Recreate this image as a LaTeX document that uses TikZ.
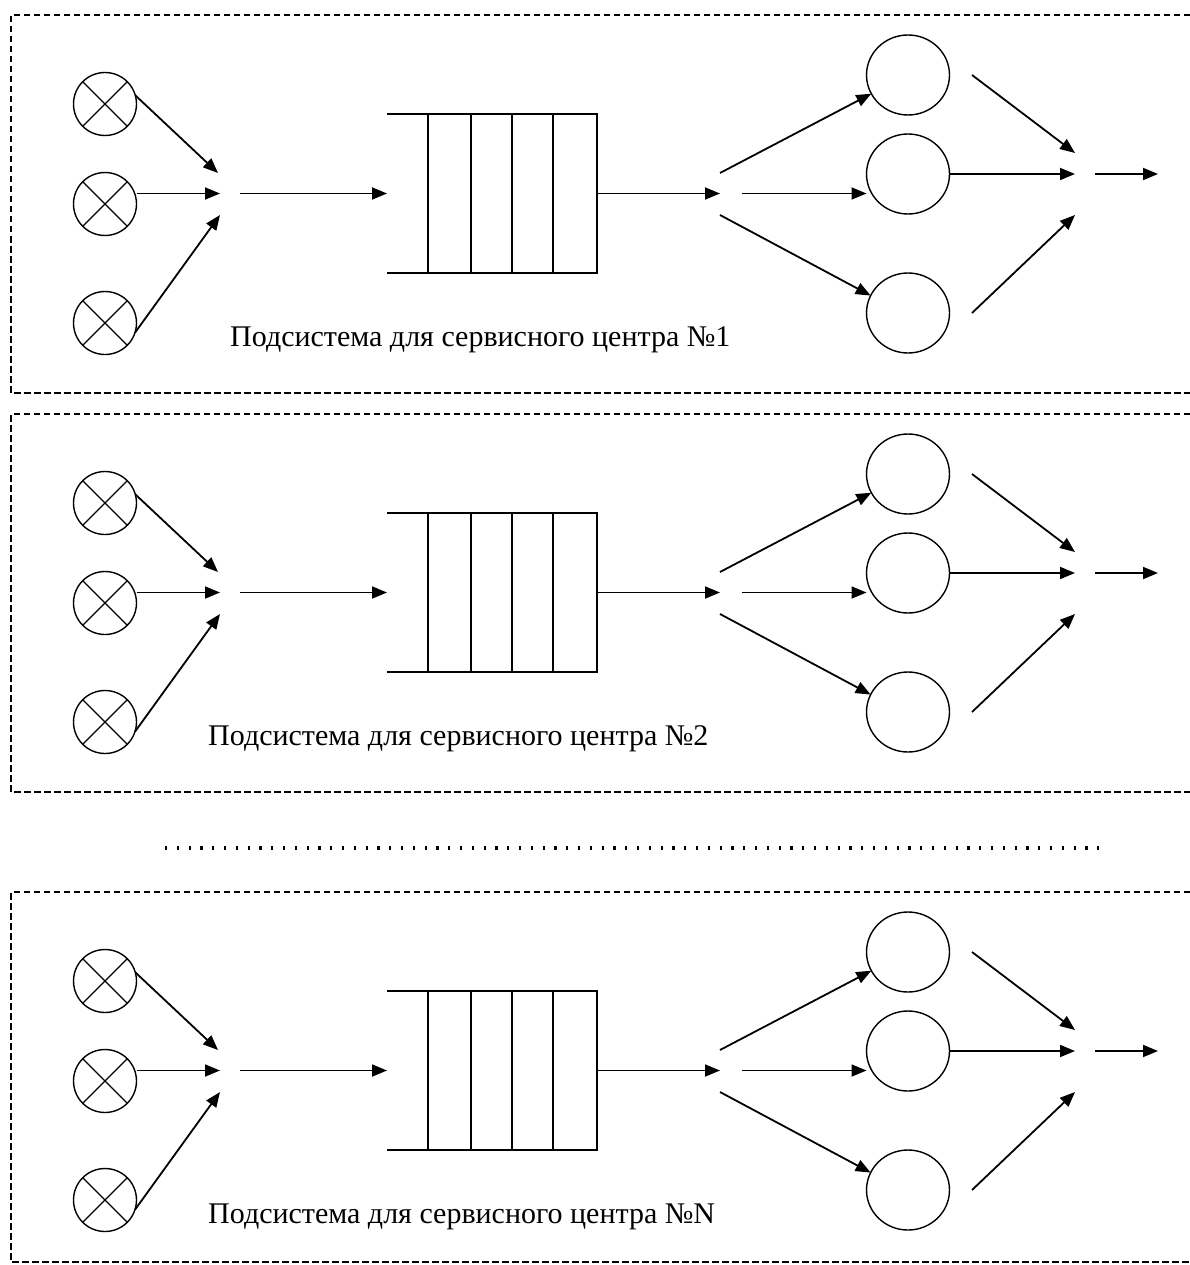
\documentclass[tikz,border=0pt]{standalone}
\usepackage{fontspec}
\setmainfont{Liberation Serif}
\usetikzlibrary{arrows.meta,shapes.geometric,calc}
\begin{document}
\begin{tikzpicture}[x=1pt,y=-1pt,
  src/.style={circle,draw,line width=1.4pt,minimum size=63pt,inner sep=0pt,outer sep=0pt},
  srv/.style={ellipse,draw,line width=1.4pt,minimum width=83pt,minimum height=80pt,inner sep=0pt,outer sep=0pt},
  arr/.style={line width=1.8pt,-{Triangle[length=15pt,width=12pt]}},
  ln/.style={line width=1.7pt},
  queuebox/.style={minimum width=210pt,minimum height=159pt,inner sep=0pt,outer sep=0pt},
  border/.style={line width=1.1pt,dash pattern=on 6.5pt off 3.5pt},
  dotline/.style={line width=4pt,dash pattern=on 2.2pt off 9.6pt},
  lab/.style={anchor=west,font=\fontsize{30}{34}\selectfont,inner sep=0pt}]
\useasboundingbox (0,0) rectangle (1190,1265);
\fill[white] (0,0) rectangle (1190,1265);

\foreach \p/\o/\lab/\lx/\b in {1/0/1/230/393, 2/399/2/208/393, 3/877/N/208/385}{
\begin{scope}[yshift=-\o pt]
  % panel border (open on the right)
  \draw[border] (1190,15) -- (11,15) -- (11,\b) -- (1190,\b);
  % sources
  \node[src] (a\p) at (105,104) {};
  \node[src] (b\p) at (105,204) {};
  \node[src] (c\p) at (105,323) {};
  \foreach \n in {a\p,b\p,c\p}{
    \draw[line width=1.1pt] (\n.45) -- (\n.225) (\n.135) -- (\n.315);
  }
  % merge point
  \coordinate (m1\p) at (218,173);
  \coordinate (m2\p) at (220,193.5);
  \coordinate (m3\p) at (220,215);
  \draw[arr] (a\p.16) -- (m1\p);
  \draw[arr] (b\p.east |- m2\p) -- (m2\p);
  \draw[arr] (c\p.-18) -- (m3\p);
  % queue
  \node[queuebox] (q\p) at (492,193.5) {};
  \draw[ln] (q\p.north west) -- (q\p.north east) -- (q\p.south east) -- (q\p.south west);
  \foreach \dx in {41,84,125,166}{
    \draw[ln] ($(q\p.north west)+(\dx,0)$) -- ($(q\p.south west)+(\dx,0)$);
  }
  \coordinate (in\p) at (240,193.5);
  \draw[arr] (in\p) -- (q\p.west);
  \coordinate (d\p) at (720,193.5);
  \draw[arr] (q\p.east) -- (d\p);
  % servers
  \node[srv] (u\p) at (908,75) {};
  \node[srv] (v\p) at (908,174) {};
  \node[srv] (w\p) at (908,313) {};
  \coordinate (f1\p) at (720,173);
  \coordinate (f2\p) at (742,193.5);
  \coordinate (f3\p) at (720,215);
  \draw[arr] (f1\p) -- (u\p.207);
  \draw[arr] (f2\p) -- (v\p.west |- f2\p);
  \draw[arr] (f3\p) -- (w\p.155);
  % outputs
  \coordinate (o1\p) at (972,75);
  \coordinate (o3\p) at (972,313);
  \coordinate (t1\p) at (1075,153);
  \coordinate (t2\p) at (1075,174);
  \coordinate (t3\p) at (1075,215);
  \draw[arr] (o1\p) -- (t1\p);
  \draw[arr] (v\p.east) -- (t2\p);
  \draw[arr] (o3\p) -- (t3\p);
  \coordinate (e1\p) at (1095,174);
  \coordinate (e2\p) at (1158,174);
  \draw[arr] (e1\p) -- (e2\p);
  % label
  \node[lab] (L\p) at (\lx,340) {Подсистема для сервисного центра №\lab};
\end{scope}
}
% ellipsis between panels
\coordinate (dotA) at (165,848);
\coordinate (dotB) at (1100,848);
\draw[dotline] (dotA) -- (dotB);
\end{tikzpicture}
\end{document}
